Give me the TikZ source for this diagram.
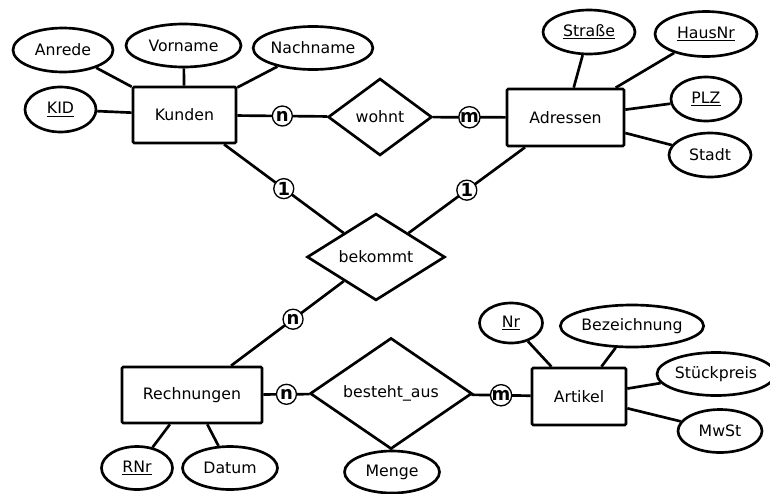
\documentclass[tikz,border=0pt]{standalone}
\usepackage{fontspec}
\setmainfont{DejaVu Sans}
\usetikzlibrary{shapes.geometric}
\begin{document}
\begin{tikzpicture}[x=0.75pt,y=-0.75pt,
 every node/.style={font=\fontsize{11.8}{13}\selectfont},
 ent/.style={draw, line width=2pt, rectangle, rounded corners=1pt, inner sep=0pt, fill=white},
 attr/.style={draw, line width=2pt, ellipse, inner sep=0pt, fill=white},
 rel/.style={draw, line width=2pt, diamond, inner sep=0pt, fill=white},
 card/.style={draw, line width=1pt, circle, inner sep=0pt, minimum size=15pt, fill=white, font=\fontsize{13.5}{14}\bfseries\selectfont},
 link/.style={line width=2pt},
 sz/.style 2 args={minimum width=#1*0.75pt, minimum height=#2*0.75pt}
]
\useasboundingbox (0,0) rectangle (770,493);
\clip (0,0) rectangle (770,493);

% entities
\node[ent, sz={103}{56}] (kunden) at (184.5,115) {Kunden};
\node[ent, sz={117}{57}] (adressen) at (565.5,117.5) {Adressen};
\node[ent, sz={140}{56}] (rechnungen) at (192,395) {Rechnungen};
\node[ent, sz={94}{57}] (artikel) at (579,396.5) {Artikel};

% relationships
\node[rel, sz={104}{77}] (wohnt) at (380,117) {wohnt};
\node[rel, sz={138}{84}] (bekommt) at (376,257) {bekommt};
\node[rel, sz={162}{87}] (besteht) at (391,393.5) {besteht\_aus};

% attributes
\node[attr, sz={100}{44}] (anrede) at (63,50) {Anrede};
\node[attr, sz={115}{43}] (vorname) at (183.5,45.5) {Vorname};
\node[attr, sz={116}{43}] (nachname) at (313,48) {Nachname};
\node[attr, sz={71}{45}] (kid) at (60.5,109.5) {\underline{KID}};

\node[attr, sz={92}{44}] (strasse) at (589,32) {\underline{Straße}};
\node[attr, sz={102}{45}] (hausnr) at (706,34) {\underline{HausNr}};
\node[attr, sz={70}{44}] (plz) at (706,99) {\underline{PLZ}};
\node[attr, sz={82}{44}] (stadt) at (710,155) {Stadt};

\node[attr, sz={71}{43}] (rnr) at (137,468) {\underline{RNr}};
\node[attr, sz={95}{43}] (datum) at (230,468) {Datum};
\node[attr, sz={95}{42}] (menge) at (392,472) {Menge};

\node[attr, sz={63}{40}] (nr) at (511,323) {\underline{Nr}};
\node[attr, sz={142}{42}] (bez) at (632,326) {Bezeichnung};
\node[attr, sz={118}{43}] (preis) at (716,374) {Stückpreis};
\node[attr, sz={84}{43}] (mwst) at (720,431) {MwSt};

% attribute links
\draw[link] (anrede) -- (kunden);
\draw[link] (vorname) -- (kunden);
\draw[link] (nachname) -- (kunden);
\draw[link] (kid) -- (kunden);
\draw[link] (strasse) -- (adressen);
\draw[link] (hausnr) -- (adressen);
\draw[link] (plz) -- (adressen);
\draw[link] (stadt) -- (adressen);
\draw[link] (rnr) -- (rechnungen);
\draw[link] (datum) -- (rechnungen);
\draw[link] (menge) -- (besteht);
\draw[link] (nr) -- (artikel);
\draw[link] (bez) -- (artikel);
\draw[link] (preis) -- (artikel);
\draw[link] (mwst) -- (artikel);

% relationship links with cardinalities
\draw[link] (kunden) -- node[card] (c1) {n} (wohnt);
\draw[link] (wohnt) -- node[card] (c2) {m} (adressen);
\draw[link] (kunden) -- node[card] (c3) {1} (bekommt);
\draw[link] (adressen) -- node[card] (c4) {1} (bekommt);
\draw[link] (bekommt) -- node[card, pos=0.45] (c5) {n} (rechnungen);
\draw[link] (rechnungen) -- node[card] (c6) {n} (besteht);
\draw[link] (besteht) -- node[card] (c7) {m} (artikel);
\end{tikzpicture}
\end{document}
